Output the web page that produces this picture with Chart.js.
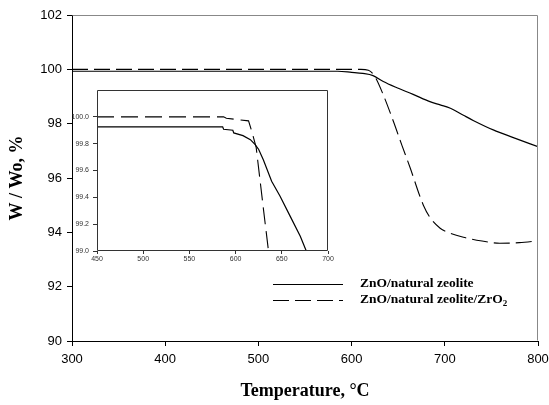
<!DOCTYPE html>
<html><head><meta charset="utf-8">
<script src="https://cdn.jsdelivr.net/npm/chart.js@4/dist/chart.umd.min.js"></script>
<style>
html,body{margin:0;padding:0;background:#fff}
#wrap{position:relative;width:549px;height:405px}
#main{position:absolute;left:0;top:0}
#inset{position:absolute;left:60px;top:85px}
</style></head><body>
<div id="wrap"><canvas id="main" width="549" height="405"></canvas><canvas id="inset" width="280" height="180"></canvas></div>
<script>
// ---- data ----
const seriesLabels = ['ZnO/natural zeolite', 'ZnO/natural zeolite/ZrO\u2082'];
const xTitle = 'Temperature, \u00B0C';
const yTitle = 'W / Wo, %';

const mainTempA = [300, 585, 600, 612, 623, 634, 648, 666, 684, 695, 706, 720, 731, 752, 775, 800];
const mainWA    = [99.93, 99.93, 99.89, 99.85, 99.77, 99.55, 99.33, 99.08, 98.81, 98.69, 98.57, 98.31, 98.11, 97.77, 97.47, 97.15];
const mainTempB = [300, 610, 618, 625, 634, 645, 654, 663, 672, 677, 684, 695, 702, 720, 740, 759, 780, 800];
const mainWB    = [100.0, 100.0, 99.97, 99.73, 99.06, 98.07, 97.2, 96.36, 95.45, 95.0, 94.55, 94.15, 94.02, 93.82, 93.68, 93.6, 93.62, 93.69];

const insetTempA = [450, 586, 587, 597, 598, 608, 616, 621, 625, 630, 639, 648, 659, 670, 676.5];
const insetWA    = [99.925, 99.925, 99.907, 99.90, 99.88, 99.86, 99.83, 99.795, 99.757, 99.68, 99.52, 99.41, 99.26, 99.11, 99.0];
const insetTempB = [450, 587, 590, 605, 614, 618, 622.3, 630, 635.6];
const insetWB    = [100.0, 100.0, 99.99, 99.977, 99.97, 99.88, 99.77, 99.32, 99.0];

const mainXTicks = [300, 400, 500, 600, 700, 800];
const mainYTicks = [90, 92, 94, 96, 98, 100, 102];
const insetXTicks = [450, 500, 550, 600, 650, 700];
const insetYTicks = [99.0, 99.2, 99.4, 99.6, 99.8, 100.0];

const pts = (xs, ys) => xs.map((x, i) => ({x: x, y: ys[i]}));
const DASH = [16, 6];

const framePlugin = {
  id: 'frame',
  afterDraw(chart, args, opts) {
    const {ctx, chartArea: a} = chart;
    ctx.save();
    ctx.strokeStyle = opts.color || '#888';
    ctx.lineWidth = 1;
    ctx.beginPath();
    const L = Math.round(a.left) + 0.5, R = Math.round(a.right) - 0.5, T = Math.round(a.top) + 0.5, B = Math.round(a.bottom) - 0.5;
    if (opts.full) {
      ctx.rect(L, T, R - L, B - T);
    } else {
      ctx.moveTo(L, T); ctx.lineTo(R, T); ctx.lineTo(R, B);
    }
    ctx.stroke();
    ctx.restore();
  }
};

const legendPlugin = {
  id: 'customLegend',
  afterDraw(chart, args, opts) {
    if (!opts.show) return;
    const ctx = chart.ctx;
    ctx.save();
    chart.data.datasets.forEach((ds, i) => {
      const y = opts.y + i * opts.gap;
      ctx.strokeStyle = ds.borderColor;
      ctx.lineWidth = ds.borderWidth;
      ctx.setLineDash(ds.borderDash || []);
      ctx.beginPath();
      ctx.moveTo(opts.x1, y + 0.5); ctx.lineTo(opts.x2, y + 0.5);
      ctx.stroke();
      ctx.setLineDash([]);
      ctx.fillStyle = '#000';
      ctx.textBaseline = 'middle';
      ctx.textAlign = 'left';
      ctx.font = opts.font;
      let t = ds.label, sub = null;
      if (t.endsWith('\u2082')) { sub = '2'; t = t.slice(0, -1); }
      ctx.fillText(t, opts.tx, y);
      if (sub) {
        const w = ctx.measureText(t).width;
        ctx.font = opts.subFont;
        ctx.fillText(sub, opts.tx + w, y + 4);
      }
    });
    ctx.restore();
  }
};

const fixTicks = (vals) => (s) => { s.ticks = vals.map(v => ({value: v})); };

new Chart(document.getElementById('main'), {
  type: 'line',
  data: {
    datasets: [
      {label: seriesLabels[0], data: pts(mainTempA, mainWA), borderColor: '#000', borderWidth: 1.2, pointRadius: 0, fill: false, cubicInterpolationMode: 'monotone'},
      {label: seriesLabels[1], data: pts(mainTempB, mainWB), borderColor: '#000', borderWidth: 1.1, borderDash: DASH, pointRadius: 0, fill: false, cubicInterpolationMode: 'monotone'}
    ]
  },
  options: {
    responsive: false, animation: false,
    layout: {padding: {left: 0, right: 11, top: 15, bottom: 0}},
    plugins: {
      legend: {display: false}, tooltip: {enabled: false},
      frame: {color: '#888'},
      customLegend: {show: true, x1: 273, x2: 343, tx: 360, y: 284, gap: 16,
        font: 'bold 13.5px "Liberation Serif"', subFont: 'bold 9px "Liberation Serif"'}
    },
    scales: {
      x: {
        type: 'linear', min: 300, max: 800,
        afterBuildTicks: fixTicks(mainXTicks),
        afterFit: (s) => { s.height = 64; s.paddingLeft = 0; s.paddingRight = 0; },
        ticks: {color: '#000', font: {family: '"Liberation Sans"', size: 13}, padding: 6, maxRotation: 0},
        grid: {drawOnChartArea: false, tickLength: 5, color: '#000'},
        border: {color: '#000', width: 1},
        title: {display: true, text: xTitle, color: '#000', font: {family: '"Liberation Serif"', size: 18, weight: 'bold'}, padding: {top: 0, bottom: 3}}
      },
      y: {
        min: 90, max: 102,
        afterBuildTicks: fixTicks(mainYTicks),
        afterFit: (s) => { s.width = 72; s.paddingTop = 0; s.paddingBottom = 0; },
        ticks: {color: '#000', font: {family: '"Liberation Sans"', size: 13}, padding: 5},
        grid: {drawOnChartArea: false, tickLength: 5, color: '#000'},
        border: {color: '#000', width: 1},
        title: {display: true, text: yTitle, color: '#000', font: {family: '"Liberation Serif"', size: 18, weight: 'bold'}, padding: {top: 7, bottom: 0}}
      }
    }
  },
  plugins: [framePlugin, legendPlugin]
});

new Chart(document.getElementById('inset'), {
  type: 'line',
  data: {
    datasets: [
      {label: seriesLabels[0], data: pts(insetTempA, insetWA), borderColor: '#000', borderWidth: 1.2, pointRadius: 0, fill: false, tension: 0},
      {label: seriesLabels[1], data: pts(insetTempB, insetWB), borderColor: '#000', borderWidth: 1.1, borderDash: [17, 7], pointRadius: 0, fill: false, tension: 0}
    ]
  },
  options: {
    responsive: false, animation: false,
    layout: {padding: {left: 0, right: 12, top: 5, bottom: 0}},
    plugins: {legend: {display: false}, tooltip: {enabled: false}, frame: {color: '#333', full: true}, customLegend: {show: false}},
    scales: {
      x: {
        type: 'linear', min: 450, max: 700,
        afterBuildTicks: fixTicks(insetXTicks),
        afterFit: (s) => { s.height = 14; s.paddingLeft = 0; s.paddingRight = 0; },
        ticks: {color: '#333', font: {family: '"Liberation Sans"', size: 7}, padding: 1, maxRotation: 0},
        grid: {drawOnChartArea: false, tickLength: 3, color: '#333'},
        border: {display: false}
      },
      y: {
        min: 99.0, max: 100.2,
        afterBuildTicks: fixTicks(insetYTicks),
        afterFit: (s) => { s.width = 37; s.paddingTop = 0; s.paddingBottom = 0; },
        ticks: {color: '#333', font: {family: '"Liberation Sans"', size: 7}, padding: 4, callback: (v) => Number(v).toFixed(1)},
        grid: {drawOnChartArea: false, tickLength: 4, color: '#333'},
        border: {display: false}
      }
    }
  },
  plugins: [framePlugin]
});
</script>
</body></html>
